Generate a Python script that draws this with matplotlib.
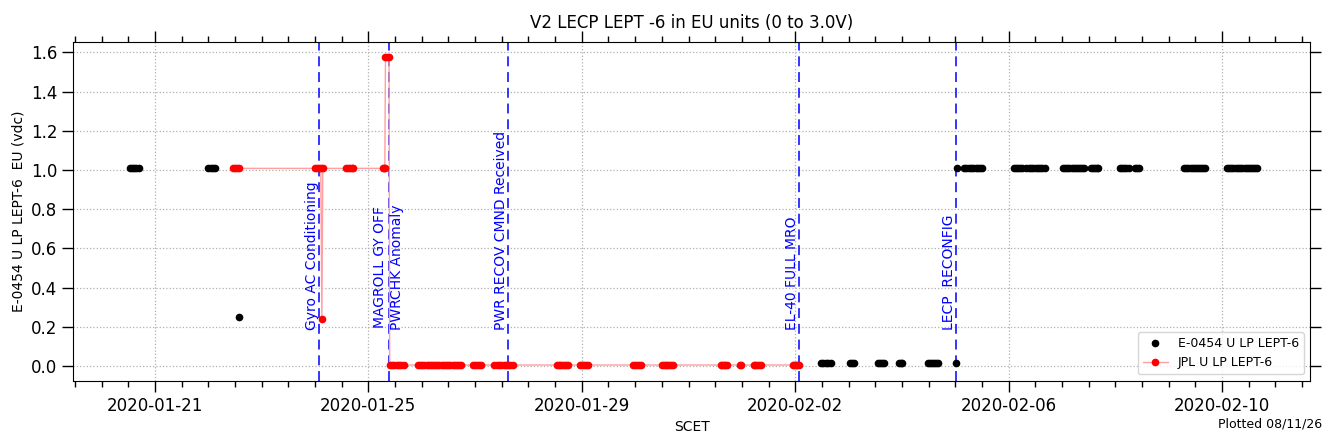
import matplotlib
matplotlib.use('Agg')
import matplotlib.pyplot as plt
import matplotlib.dates as mdates
from datetime import datetime, timedelta

BASE = datetime(2020, 1, 19)

# E-0454 U LP LEPT-6 : hours since 2020-01-19 00:00 and values
e0454_hours = [36.6, 37.6, 38.7, 39.7, 40.8,
               72.1, 73.1, 74.2, 75.2,
               85.6,
               347.5, 348.6, 349.7, 350.9, 352.0,
               360.6, 361.5, 362.5,
               373.3, 374.2, 375.1, 376.0,
               382.8, 383.4, 384.0,
               395.5, 396.5, 397.5, 398.4, 399.4, 400.3,
               408.2,
               408.7,
               412.0, 413.0, 414.1, 415.1, 416.1, 417.1, 418.1, 419.2, 420.2,
               434.2, 435.1, 436.0, 436.9, 437.8,
               440.0, 441.0, 442.0, 443.1, 444.1, 445.1, 446.1, 447.2, 448.2,
               456.5, 457.4, 458.4, 459.3, 460.3, 461.2, 462.2, 463.1, 464.0, 465.0, 465.9,
               469.2, 470.0, 470.8, 471.6, 472.4,
               482.0, 483.0, 484.0, 484.9, 485.9,
               488.7, 489.7, 490.7,
               510.9, 511.9, 512.8, 513.8, 514.7, 515.6, 516.5, 517.5, 518.4, 519.4, 520.3,
               530.1, 531.1, 532.1, 533.1, 534.1, 535.1, 536.1, 537.1, 538.1, 539.0,
               540.0, 541.0, 542.0, 543.0, 543.9]
e0454_values = [1.008] * 9 + [0.248] + [0.014] * 22 + [1.008] * 74

# JPL U LP LEPT-6
jpl_hours = [83.0, 83.9, 84.8, 85.7,
             119.9, 120.8, 121.7, 122.6, 123.1, 123.5,
             134.0, 134.8, 135.6, 136.5, 137.3,
             150.4, 150.9, 151.4,
             151.7, 152.5, 153.3,
             153.6, 154.6, 155.6, 156.7, 157.8, 158.9, 160.0,
             166.2, 167.2, 168.2, 169.2, 170.2, 171.1, 172.1, 173.1, 174.1, 175.0, 176.0,
             177.0, 178.0, 179.0, 180.0, 180.9, 181.9, 182.8, 183.8, 184.7, 185.7,
             190.9, 191.8, 192.8, 193.7, 194.7,
             200.7, 201.7, 202.7, 203.7, 204.8, 205.8, 206.8, 207.8, 208.9,
             228.8, 229.6, 230.4, 231.2, 232.0, 232.8, 233.6,
             239.3, 240.2, 241.1, 242.0, 242.9,
             262.9, 263.8, 264.8, 265.7, 266.6,
             276.0, 276.8, 277.7, 278.5, 279.4, 280.2, 281.0,
             302.6, 303.2, 303.9, 304.5, 305.1,
             311.1, 311.6,
             317.3, 318.1, 318.9, 319.7, 320.5,
             334.8, 335.5, 336.3, 337.0, 337.8]
jpl_values = ([1.008] * 8 + [0.239] + [1.008] + [1.008] * 5 + [1.008] * 3 +
              [1.578] * 3 + [0.005] * 83)

# events
event_hours = [121.6, 153.1, 207.0, 337.9, 408.4]
event_labels = ["Gyro AC Conditioning", "MAGROLL GY OFF\nPWRCHK Anomaly",
                "PWR RECOV CMND Received", "EL-40 FULL MRO", "LECP  RECONFIG"]
event_ha = ["right", "center", "right", "right", "right"]

xlim_hours = (11.3, 567.5)


def to_dt(hs):
    return [BASE + timedelta(hours=h) for h in hs]


plt.rcParams['font.family'] = ['DejaVu Sans']
fig = plt.figure(figsize=(13.33, 4.44), dpi=100)
ax = fig.add_axes([0.055, 0.1426, 0.9277, 0.7634])

ax.plot(to_dt(e0454_hours), e0454_values, linestyle='none', marker='o',
        markersize=4.5, color='black', label='E-0454 U LP LEPT-6', zorder=3)
ax.plot(to_dt(jpl_hours), jpl_values, linestyle='-', linewidth=1.0,
        color='#ff9f9f', marker='o', markersize=4.5, markerfacecolor='red',
        markeredgecolor='red', label='JPL U LP LEPT-6', zorder=3)

for h, lab, ha in zip(event_hours, event_labels, event_ha):
    t = BASE + timedelta(hours=h)
    ax.axvline(t, color='blue', linewidth=1.1, linestyle=(0, (6.5, 3.8)), zorder=2)
    ax.text(t, 0.185, lab, rotation=90, ha=ha, va='bottom', color='blue',
            fontsize=10, multialignment='center', zorder=4)

ax.set_xlim(to_dt(xlim_hours))
ax.set_ylim(-0.075, 1.654)
ax.set_yticks([0.0, 0.2, 0.4, 0.6, 0.8, 1.0, 1.2, 1.4, 1.6])
ax.yaxis.set_major_formatter(matplotlib.ticker.FormatStrFormatter('%.1f'))

ax.xaxis.set_major_locator(mdates.DayLocator(bymonthday=[2, 6, 10, 21, 25, 29]))
ax.xaxis.set_major_formatter(mdates.DateFormatter('%Y-%m-%d'))
ax.xaxis.set_minor_locator(mdates.HourLocator(byhour=[0, 12]))

ax.tick_params(axis='both', which='major', direction='out', length=8, width=1,
               labelsize=12, top=True, right=True)
ax.tick_params(axis='x', which='minor', direction='out', length=4.5, width=1,
               top=True, bottom=True)
ax.grid(True, which='major', linestyle=':', color='#b0b0b0', linewidth=0.9)
ax.set_axisbelow(True)

ax.set_title('V2 LECP LEPT -6 in EU units (0 to 3.0V)', fontsize=12, pad=10)
ax.set_ylabel('E-0454 U LP LEPT-6  EU (vdc)', fontsize=10)
ax.set_xlabel('SCET', fontsize=10)

ax.legend(loc='lower right', fontsize=9, framealpha=0.8)

fig.text(0.992, 0.03, 'Plotted 08/11/26', ha='right', va='bottom', fontsize=9)

fig.savefig('out.png', dpi=100)
